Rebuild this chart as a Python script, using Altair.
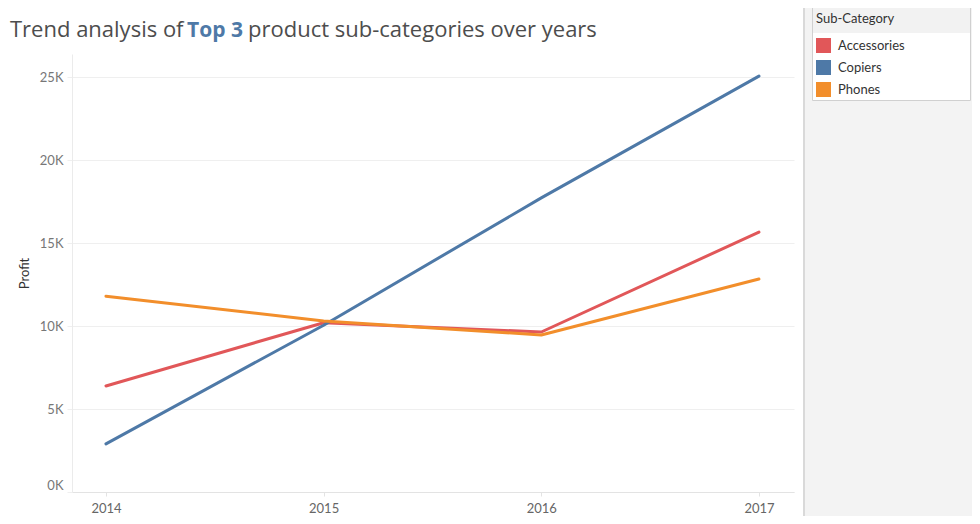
import altair as alt
import pandas as pd

# ---- data ----
years = [2014, 2015, 2016, 2017]
accessories = [6390, 10200, 9640, 15660]
copiers = [2900, 10050, 17720, 25060]
phones = [11800, 10300, 9460, 12830]

categories = ["Accessories", "Copiers", "Phones"]
colors = ["#e15759", "#4e79a7", "#f28e2b"]

title_parts = ["Trend analysis of", "Top 3", "product sub-categories over years"]

y_ticks = [0, 5000, 10000, 15000, 20000, 25000]

FONT = "Lato"
TFONT = "Open Sans"

rows = []
for name, vals in zip(categories, [accessories, copiers, phones]):
    for yr, v in zip(years, vals):
        rows.append({"Year": yr, "Profit": v, "Sub-Category": name})
df = pd.DataFrame(rows)

W, H = 722, 438
one = pd.DataFrame({"a": [0]})

x_enc = alt.X(
    "Year:Q",
    scale=alt.Scale(domain=[2013.844, 2017.161], nice=False, zero=False),
    axis=alt.Axis(
        values=years, format="d", title=None, grid=False,
        domainColor="#e3e3e3", tickColor="#e3e3e3", tickSize=4,
        labelPadding=6, labelColor="#666666", labelFontSize=13, labelFont=FONT,
    ),
)
y_enc = alt.Y(
    "Profit:Q",
    scale=alt.Scale(domain=[0, 26390], nice=False),
    axis=alt.Axis(
        values=y_ticks, title="Profit",
        labelExpr="format(datum.value / 1000, 'd') + 'K'",
        gridColor="#efefef", domainColor="#ebebeb", tickColor="#efefef", tickSize=5,
        labelPadding=4, labelColor="#777777", labelFontSize=13, labelFont=FONT,
        labelFlush=True,
        titleFont=FONT, titleFontSize=13, titleFontWeight="normal", titleColor="#333333",
        titlePadding=8,
    ),
)
color_scale = alt.Scale(domain=categories, range=colors)

# right gray panel
panel = alt.Chart(one).mark_rect(color="#f3f3f3").encode(
    x=alt.value(732), x2=alt.value(900), y=alt.value(-60), y2=alt.value(480)
)
divider = alt.Chart(one).mark_rule(color="#d9d9d9", strokeWidth=2).encode(
    x=alt.value(732), y=alt.value(-60), y2=alt.value(480)
)
legend_body = alt.Chart(one).mark_rect(color="#ffffff", stroke="#d0d0d0", strokeWidth=1).encode(
    x=alt.value(740.5), x2=alt.value(898.5), y=alt.value(-50.5), y2=alt.value(46.5)
)
legend_head = alt.Chart(one).mark_rect(color="#f2f2f2").encode(
    x=alt.value(741), x2=alt.value(898), y=alt.value(-50), y2=alt.value(-21)
)

lines = alt.Chart(df).mark_line(strokeWidth=3, strokeCap="round", strokeJoin="round").encode(
    x=x_enc,
    y=y_enc,
    color=alt.Color("Sub-Category:N", scale=color_scale, legend=None),
)

# invisible layer that carries the (filled square) legend
legend_layer = alt.Chart(df).transform_filter("false").mark_square(filled=True).encode(
    x=alt.X("Year:Q"),
    y=alt.Y("Profit:Q"),
    color=alt.Color(
        "Sub-Category:N",
        scale=color_scale,
        legend=alt.Legend(
            orient="none", legendX=744, legendY=-41,
            title="Sub-Category", titleFont=FONT, titleFontSize=13, titleFontWeight="normal",
            titleColor="#333333", titlePadding=12,
            symbolType="square", symbolSize=225, symbolStrokeWidth=0, symbolOpacity=1,
            labelFont=FONT, labelFontSize=13, labelColor="#333333", labelOffset=7,
            rowPadding=7, padding=0,
        ),
    ),
)

def title_text(txt, x, color, weight, size=22):
    return alt.Chart(pd.DataFrame({"t": [txt]})).mark_text(
        align="left", baseline="alphabetic", font=TFONT, fontSize=size, color=color, fontWeight=weight
    ).encode(text="t:N", x=alt.value(x), y=alt.value(-17))

t1 = title_text(title_parts[0], -62, "#4d4d4d", "normal")
t2 = title_text(title_parts[1], 115, "#4e79a7", "bold", 21)
t3 = title_text(title_parts[2], 176, "#4d4d4d", "normal")

chart = alt.layer(panel, divider, legend_body, legend_head, lines, legend_layer, t1, t2, t3).resolve_legend(
    color="independent"
).properties(
    width=W, height=H,
    autosize=alt.AutoSizeParams(type="none"),
    padding={"left": 64, "top": 46, "right": 178, "bottom": 24},
).configure(background="#ffffff", view=alt.ViewConfig(stroke=None))

chart.save("out.html", embed_options={"renderer": "svg", "actions": False})
